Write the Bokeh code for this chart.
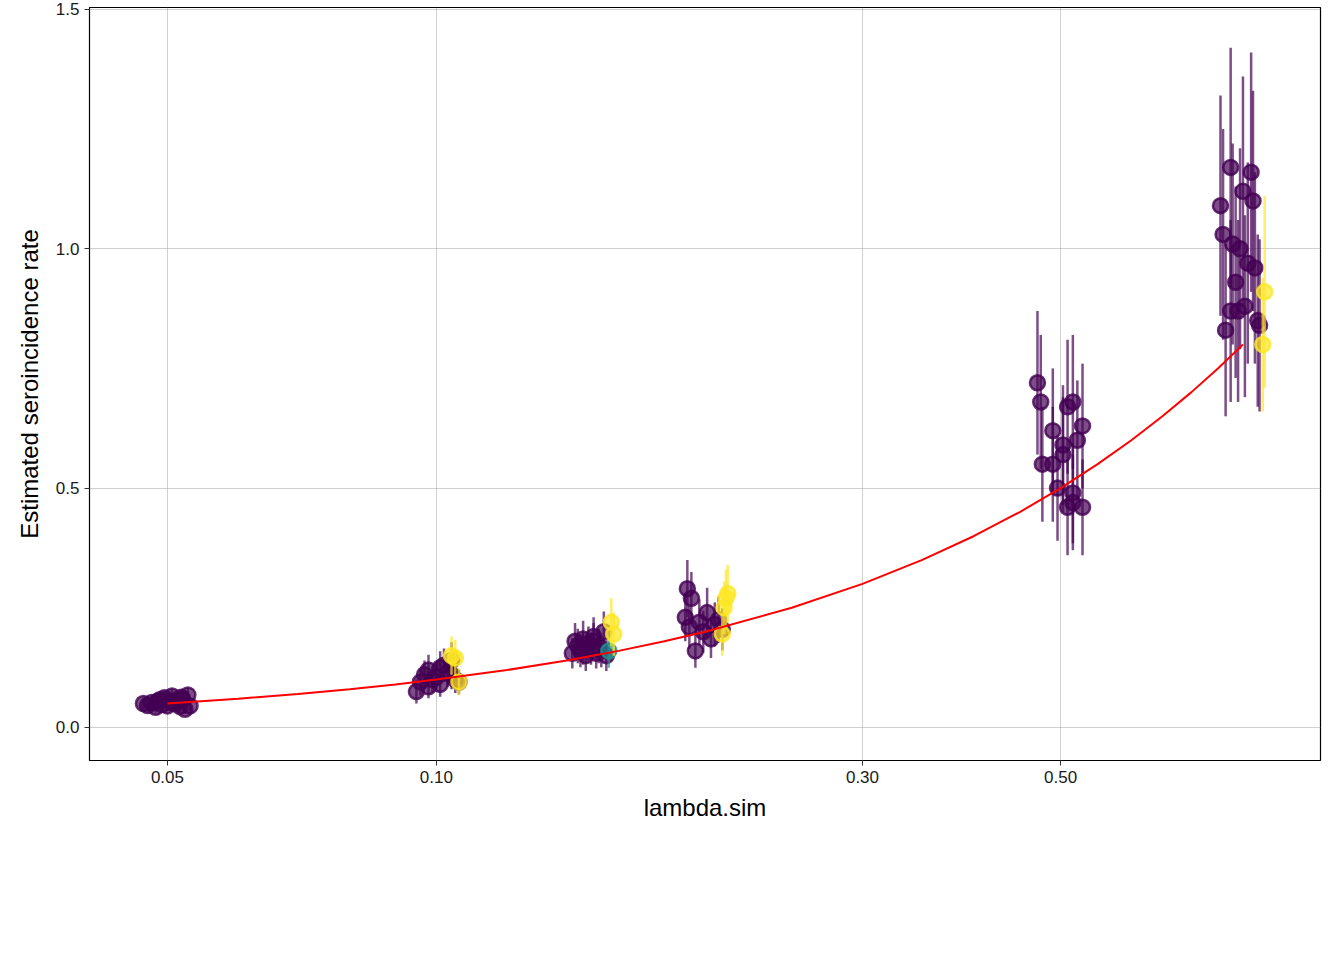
import numpy as np
from bokeh.plotting import figure
from bokeh.models import FixedTicker, Legend, LegendItem, ColumnDataSource
from bokeh.embed import file_html
from bokeh.resources import INLINE

# cluster data: lambda.sim (jittered), estimate, CI half width, convergence code
lam = [0.0470,0.0475,0.0480,0.0485,0.0490,0.0493,0.0496,0.0500,0.0503,0.0506,0.0510,0.0513,0.0516,0.0520,0.0523,0.0527,0.0530,0.0505,0.0488,0.0518,
       0.095,0.096,0.097,0.098,0.099,0.100,0.101,0.102,0.103,0.104,0.105,0.106,0.098,0.101,0.104,
       0.105,0.106,0.104,
       0.142,0.143,0.144,0.145,0.146,0.147,0.148,0.149,0.150,0.151,0.152,0.153,0.154,0.155,0.146,0.150,
       0.157,0.158,0.156,
       0.191,0.193,0.190,0.192,0.195,0.197,0.199,0.201,0.203,0.205,0.207,0.209,
       0.210,0.211,0.212,0.209,
       0.471,0.475,0.477,0.490,0.490,0.496,0.503,0.503,0.509,0.509,0.516,0.516,0.516,0.522,0.529,0.529,
       0.755,0.760,0.765,0.775,0.775,0.779,0.785,0.790,0.794,0.800,0.804,0.810,0.817,0.821,0.825,0.831,0.835,
       0.846,0.842]
est = [0.050,0.046,0.052,0.042,0.058,0.048,0.062,0.045,0.055,0.066,0.050,0.058,0.044,0.060,0.038,0.068,0.045,0.052,0.055,0.063,
       0.075,0.095,0.110,0.120,0.100,0.105,0.090,0.130,0.115,0.140,0.100,0.095,0.085,0.125,0.110,
       0.145,0.095,0.150,
       0.155,0.180,0.170,0.160,0.185,0.150,0.175,0.165,0.190,0.155,0.170,0.160,0.200,0.150,0.165,0.180,
       0.220,0.195,0.160,
       0.290,0.270,0.230,0.210,0.160,0.220,0.200,0.240,0.185,0.215,0.225,0.205,
       0.250,0.270,0.280,0.195,
       0.720,0.680,0.550,0.550,0.620,0.500,0.590,0.570,0.670,0.460,0.680,0.490,0.470,0.600,0.630,0.460,
       1.090,1.030,0.830,1.170,0.870,1.010,0.930,0.870,1.000,1.120,0.880,0.970,1.160,1.100,0.960,0.850,0.840,
       0.910,0.800]
err = [0.012,0.012,0.013,0.011,0.014,0.012,0.014,0.011,0.013,0.015,0.012,0.013,0.011,0.014,0.010,0.015,0.011,0.012,0.013,0.014,
       0.025,0.028,0.030,0.032,0.028,0.030,0.026,0.035,0.030,0.038,0.028,0.026,0.024,0.034,0.030,
       0.038,0.028,0.040,
       0.032,0.038,0.036,0.034,0.038,0.032,0.036,0.034,0.040,0.032,0.036,0.034,0.042,0.032,0.034,0.038,
       0.050,0.045,0.035,
       0.060,0.055,0.050,0.045,0.035,0.048,0.044,0.052,0.040,0.046,0.048,0.044,
       0.055,0.060,0.060,0.045,
       0.150,0.140,0.120,0.120,0.130,0.110,0.125,0.120,0.140,0.100,0.140,0.105,0.100,0.125,0.130,0.100,
       0.230,0.220,0.180,0.250,0.190,0.210,0.200,0.190,0.210,0.240,0.190,0.210,0.250,0.230,0.200,0.180,0.180,
       0.200,0.140]
code = [1]*20 + [1]*15 + [3]*3 + [1]*16 + [3,3,2] + [1]*12 + [3]*4 + [1]*16 + [1]*17 + [3,3]

true_lambda = [0.05, 0.06, 0.07, 0.08, 0.09, 0.1, 0.12, 0.14, 0.16, 0.18, 0.2, 0.25, 0.3, 0.35, 0.4,
               0.45, 0.5, 0.55, 0.6, 0.65, 0.7, 0.75, 0.8]
x_ticks = [0.05, 0.10, 0.30, 0.50]
x_tick_labels = ["0.05", "0.10", "0.30", "0.50"]
y_ticks = [0.0, 0.5, 1.0, 1.5]
y_tick_labels = ["0.0", "0.5", "1.0", "1.5"]
colors = {1: "#440154", 2: "#21908C", 3: "#FDE725"}

p = figure(x_axis_type="log", x_range=(0.0409, 0.977), y_range=(-0.069, 1.504),
           frame_width=1231, frame_height=753, min_border_left=89, min_border_top=7,
           min_border_right=8, min_border_bottom=20,
           output_backend="svg", toolbar_location=None)

lam_a = np.array(lam); est_a = np.array(est); err_a = np.array(err); code_a = np.array(code)
dummy = p.scatter([], [], alpha=0)
items = [LegendItem(label="nlm.convergence.code", renderers=[dummy])]
for c in [1, 2, 3]:
    m = code_a == c
    src = ColumnDataSource(dict(x=lam_a[m], y=est_a[m], lo=est_a[m] - err_a[m], hi=est_a[m] + err_a[m]))
    seg = p.segment(x0="x", x1="x", y0="lo", y1="hi", source=src, color=colors[c], alpha=0.7, line_width=2.5)
    sc = p.scatter("x", "y", source=src, size=15, fill_color=colors[c], fill_alpha=0.7,
                   line_color=colors[c], line_width=2.5, line_alpha=0.8)
    items.append(LegendItem(label=str(c), renderers=[seg, sc]))
ln = p.line(true_lambda, true_lambda, color="red", line_width=2)
items.append(LegendItem(label="data-generating incidence rate", renderers=[ln]))

p.xaxis.ticker = FixedTicker(ticks=x_ticks)
p.xaxis.major_label_overrides = {t: l for t, l in zip(x_ticks, x_tick_labels)}
p.yaxis.ticker = FixedTicker(ticks=y_ticks)
p.yaxis.major_label_overrides = {t: l for t, l in zip(y_ticks, y_tick_labels)}
for ax in [p.xaxis[0], p.yaxis[0]]:
    ax.minor_tick_line_color = None
    ax.axis_line_color = None
    ax.major_tick_in = 0
    ax.major_tick_out = 5
    ax.major_tick_line_color = "#333333"
    ax.major_label_text_font = "Liberation Sans"
    ax.major_label_text_font_size = "17px"
    ax.major_label_text_color = "#1a1a1a"
    ax.axis_label_text_font = "Liberation Sans"
    ax.axis_label_text_font_size = "24px"
    ax.axis_label_text_font_style = "normal"
    ax.axis_label_text_color = "black"
p.xaxis.axis_label = "lambda.sim"
p.yaxis.axis_label = "Estimated seroincidence rate"
p.xaxis.axis_label_standoff = 8
p.yaxis.axis_label_standoff = 10
p.grid.grid_line_color = "#b0b0b0"
p.grid.grid_line_width = 0.6
p.outline_line_color = "black"
p.outline_line_width = 1.2

leg = Legend(items=items, orientation="horizontal", location="center",
             label_text_font="Liberation Sans", label_text_font_size="20px",
             glyph_width=36, glyph_height=36, spacing=18, label_standoff=14,
             background_fill_alpha=0, border_line_alpha=0, padding=0, margin=40)
p.add_layout(leg, "below")

open("out.html", "w").write(file_html(p, INLINE))
